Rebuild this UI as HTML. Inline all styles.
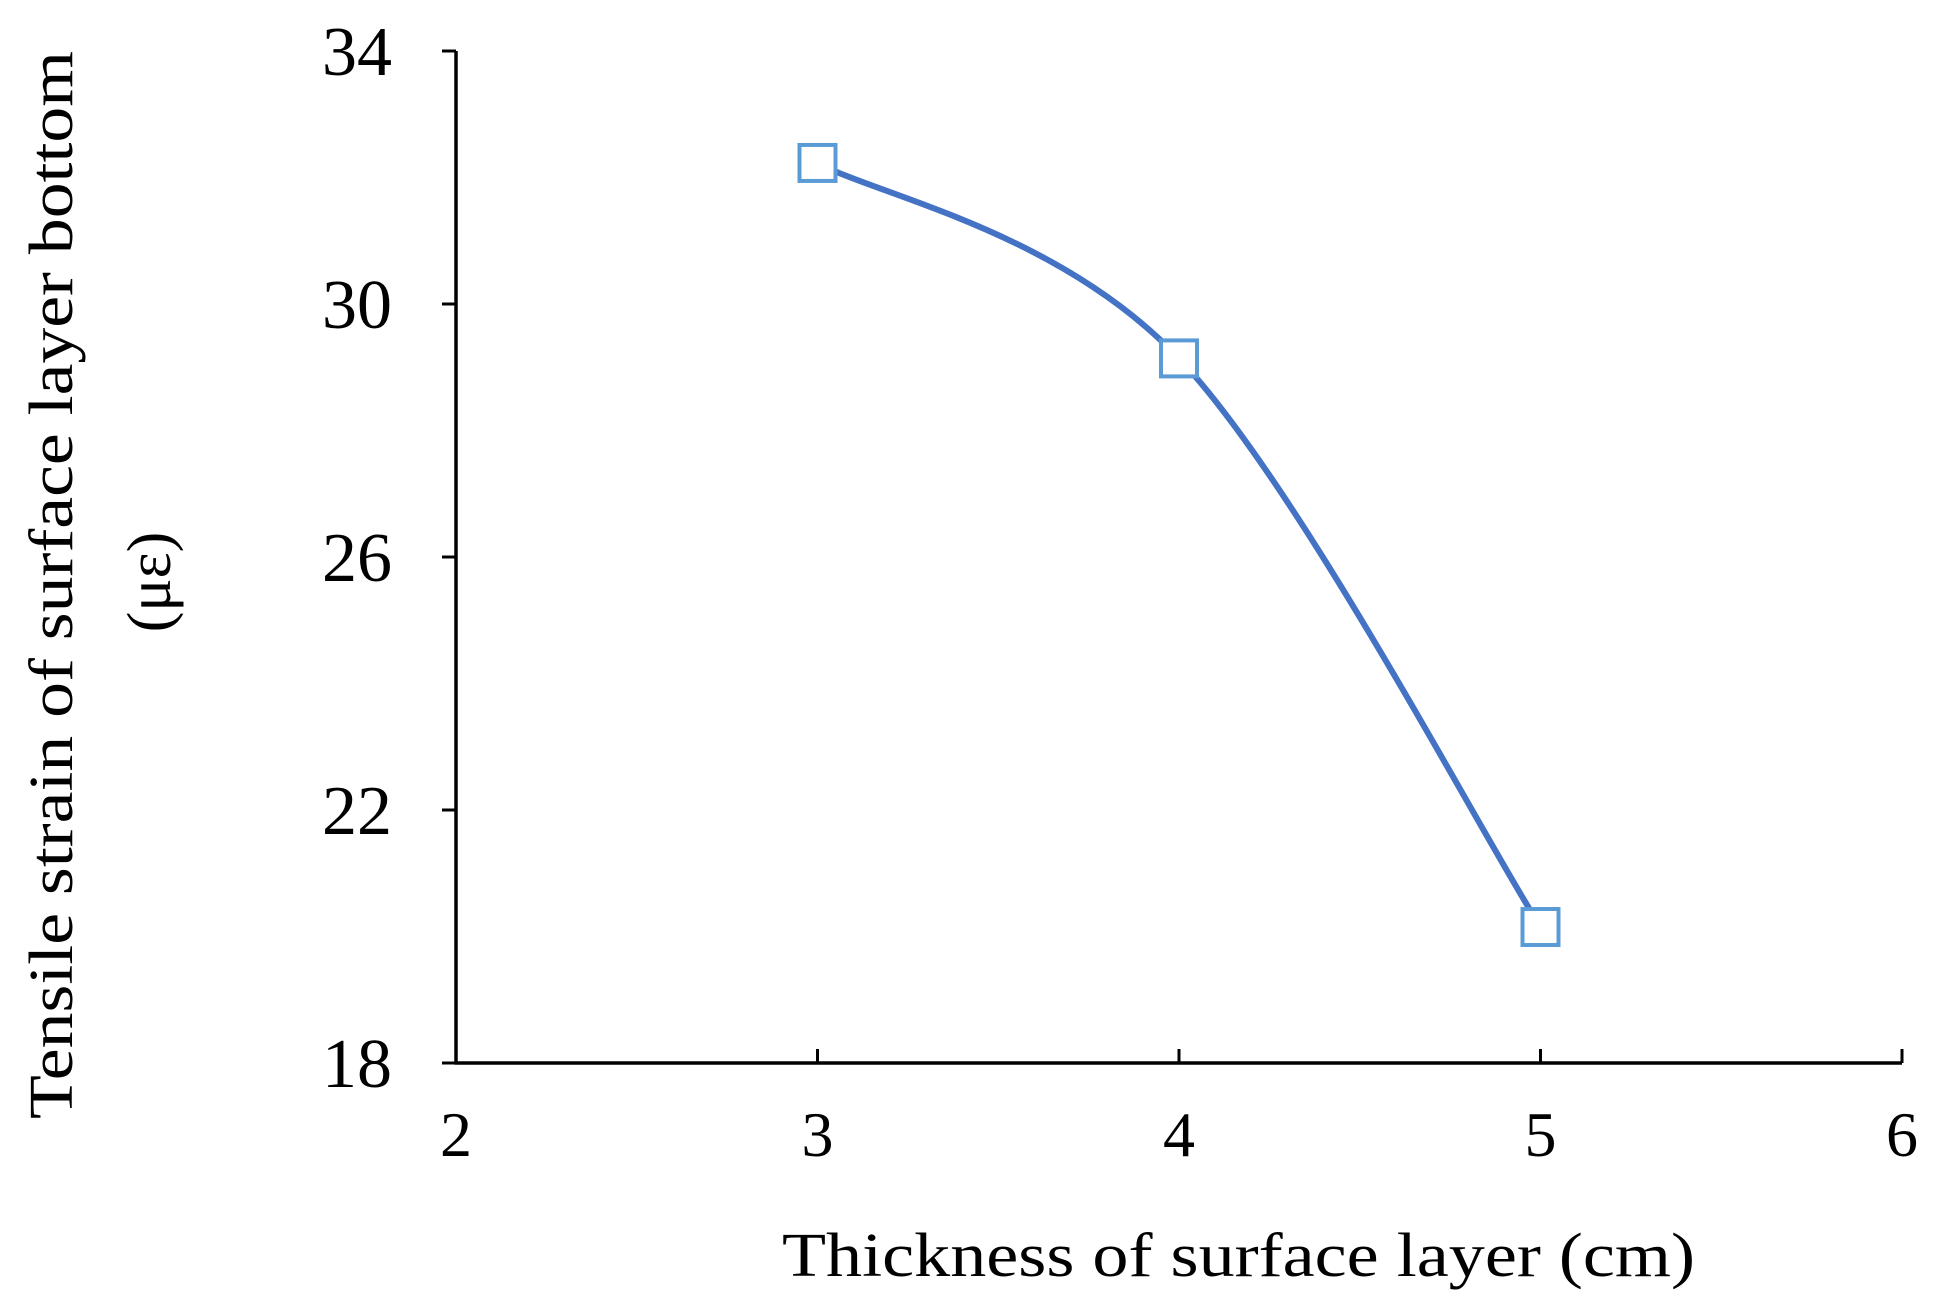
<!DOCTYPE html>
<html><head><meta charset="utf-8"><style>
html,body{margin:0;padding:0;background:#fff;}
svg, svg text{font-family:"Liberation Serif","Times New Roman",Times,serif;}
svg{display:block;}
</style></head><body>
<svg id="chart" width="1934" height="1311" viewBox="0 0 1934 1311">
<g id="axes"></g>
<g id="series"></g>
<text font-family="Liberation Serif, serif" x="782" y="1276" font-size="62" textLength="913" lengthAdjust="spacingAndGlyphs">Thickness of surface  layer (cm)</text>
<text font-family="Liberation Serif, serif" transform="translate(72,585) rotate(-90)" text-anchor="middle" font-size="62" textLength="1068" lengthAdjust="spacingAndGlyphs">Tensile strain of surface  layer bottom</text>
<text font-family="Liberation Serif, serif" transform="translate(170,582) rotate(-90)" text-anchor="middle" font-size="62">(με)</text>
</svg>
<script>
const xTicks = [2, 3, 4, 5, 6];
const yTicks = [18, 22, 26, 30, 34];
const xValues = [3, 4, 5];
const yValues = [32.23, 29.14, 20.15];
const NS = "http://www.w3.org/2000/svg";
const X0 = 456, X1 = 1902, Y0 = 1063, Y1 = 51;
function sx(v){ return X0 + (v - 2) / 4 * (X1 - X0); }
function sy(v){ return Y0 - (v - 18) / 16 * (Y0 - Y1); }
function mk(tag, attrs, parent){ const e = document.createElementNS(NS, tag); for (const k in attrs) e.setAttribute(k, attrs[k]); parent.appendChild(e); return e; }
const axes = document.getElementById('axes');
const series = document.getElementById('series');
let e = mk('line', {x1:X0, y1:Y1, x2:X0, y2:Y0, stroke:'#000', 'stroke-width':3.5}, axes);


e = mk('line', {x1:X0-1.5, y1:Y0, x2:X1, y2:Y0, stroke:'#000', 'stroke-width':3.5}, axes);


yTicks.forEach(t => {
  const y = sy(t);
  let tk = mk('line', {x1:X0-14, y1:y, x2:X0, y2:y, stroke:'#000', 'stroke-width':3}, axes);
  
  
  let lb = mk('text', {x:392, y:y+24, 'text-anchor':'end', 'font-size':70, 'font-family':'Liberation Serif, serif'}, axes);
  lb.textContent = t;
  
  
});
xTicks.forEach(t => {
  const x = sx(t);
  if (t > 2) {
    let tk = mk('line', {x1:x, y1:Y0-14, x2:x, y2:Y0, stroke:'#000', 'stroke-width':3}, axes);
    
    
  }
  let lb = mk('text', {x:x, y:1156, 'text-anchor':'middle', 'font-size':64, 'font-family':'Liberation Serif, serif'}, axes);
  lb.textContent = t;
  
  
});
const pts = xValues.map((v, i) => [sx(v), sy(yValues[i])]);
let d = 'M' + pts[0][0] + ',' + pts[0][1];
for (let i = 0; i < pts.length - 1; i++) {
  const p0 = pts[Math.max(0, i-1)], p1 = pts[i], p2 = pts[i+1], p3 = pts[Math.min(pts.length-1, i+2)];
  const c1 = [p1[0] + (p2[0]-p0[0])/6, p1[1] + (p2[1]-p0[1])/6];
  const c2 = [p2[0] - (p3[0]-p1[0])/6, p2[1] - (p3[1]-p1[1])/6];
  d += ' C' + c1[0] + ',' + c1[1] + ' ' + c2[0] + ',' + c2[1] + ' ' + p2[0] + ',' + p2[1];
}
const path = mk('path', {d:d, fill:'none', stroke:'#4472c4', 'stroke-width':6}, series);


pts.forEach(p => {
  const r = mk('rect', {x:p[0]-18, y:p[1]-18, width:36, height:36, fill:'#fff', stroke:'#5b9bd5', 'stroke-width':4}, series);
  
  
});
</script>
</body></html>
